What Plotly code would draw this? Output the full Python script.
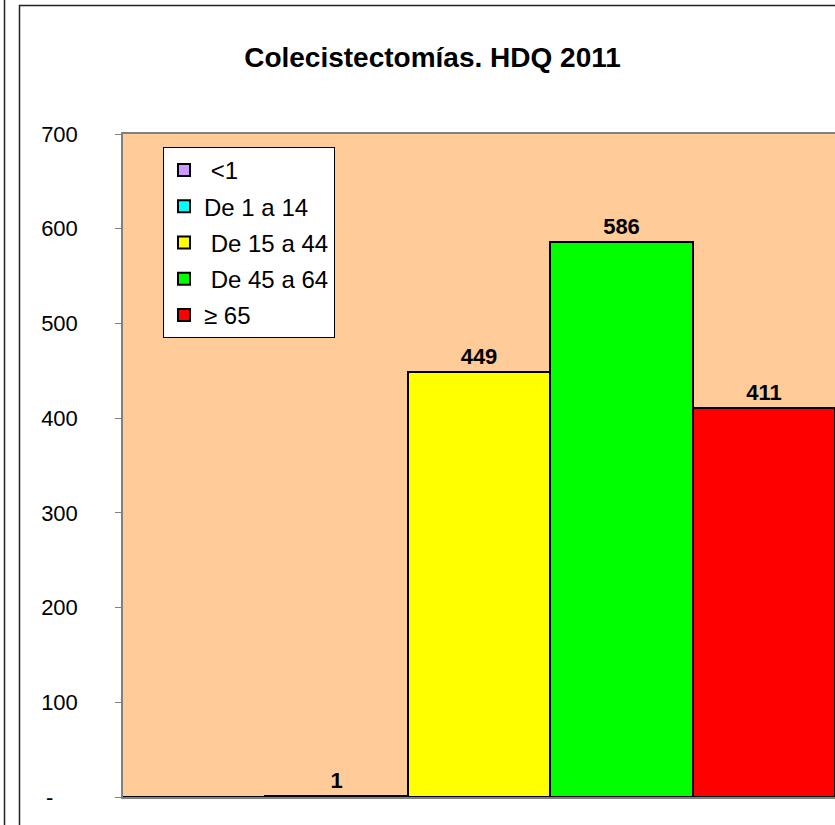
import plotly.graph_objects as go

# ---- data ----
category = ["HDQ 2011"]
series_names = ["\u00a0<1", "De 1 a 14", "\u00a0De 15 a 44", "\u00a0De 45 a 64", "≥ 65"]
series_values = [0, 1, 449, 586, 411]
series_colors = ["#CC99FF", "#00FFFF", "#FFFF00", "#00FF00", "#FF0000"]
y_tickvals = [0, 100, 200, 300, 400, 500, 600, 700]
y_ticktext = ["-\u00a0\u00a0\u00a0\u00a0", "100", "200", "300", "400", "500", "600", "700"]
title_text = "<b>Colecistectomías. HDQ 2011</b>"

FONT = "Arial, Liberation Sans, sans-serif"
W, H = 835, 825
L, T, B, R = 123, 134, 28, 0

fig = go.Figure()
for i, (name, val, col) in enumerate(zip(series_names, series_values, series_colors)):
    fig.add_trace(go.Bar(
        x=category, y=[val], name=name, legendgroup="g%d" % i,
        marker=dict(color=col, line=dict(color="black", width=2)),
        text=["<b>%d</b>" % val if val > 0 else ""],
        textposition="outside",
        textfont=dict(family=FONT, size=22, color="black"),
        cliponaxis=False,
    ))

def px_x(p):
    return (p - L) / (W - L - R)

def px_y(p):
    return (H - B - p) / (H - T - B)

shapes = [
    dict(type="rect", xref="paper", yref="paper",
         x0=px_x(19.5), x1=px_x(900), y0=px_y(5.5), y1=px_y(900),
         line=dict(color="#222222", width=1.5), layer="below"),
    dict(type="line", xref="paper", yref="paper",
         x0=px_x(4.5), x1=px_x(4.5), y0=px_y(-10), y1=px_y(900),
         line=dict(color="#222222", width=1.5), layer="below"),
]

fig.update_layout(
    width=W, height=H,
    margin=dict(l=L, r=R, t=T, b=B, pad=0),
    paper_bgcolor="white",
    plot_bgcolor="#FFCC99",
    barmode="group", bargap=0, bargroupgap=0,
    font=dict(family=FONT, color="black"),
    title=dict(text=title_text, font=dict(family=FONT, size=28, color="black"),
               x=432.5 / W, xanchor="center", y=1 - 57 / H, yanchor="middle",
               xref="container", yref="container"),
    showlegend=True,
    legend=dict(x=px_x(163), y=px_y(147), xanchor="left", yanchor="top",
                bgcolor="white", bordercolor="black", borderwidth=1,
                font=dict(family=FONT, size=24, color="black"),
                traceorder="grouped", tracegroupgap=2),
    shapes=shapes,
)
fig.update_xaxes(showticklabels=False, ticks="", showline=True, linecolor="#808080",
                 linewidth=1.5, mirror=True, showgrid=False, zeroline=False)
fig.update_yaxes(range=[0, 700], tickvals=y_tickvals, ticktext=y_ticktext,
                 ticks="outside", ticklen=6, tickcolor="#808080", tickwidth=1,
                 showline=True, linecolor="#808080", linewidth=1.5, mirror=False,
                 showgrid=False, zeroline=False, ticklabelstandoff=33,
                 tickfont=dict(family=FONT, size=22, color="black"))

fig.write_html("out.html", config={"displayModeBar": False},
               post_script="document.body.style.margin='0';document.body.style.overflow='hidden';")
